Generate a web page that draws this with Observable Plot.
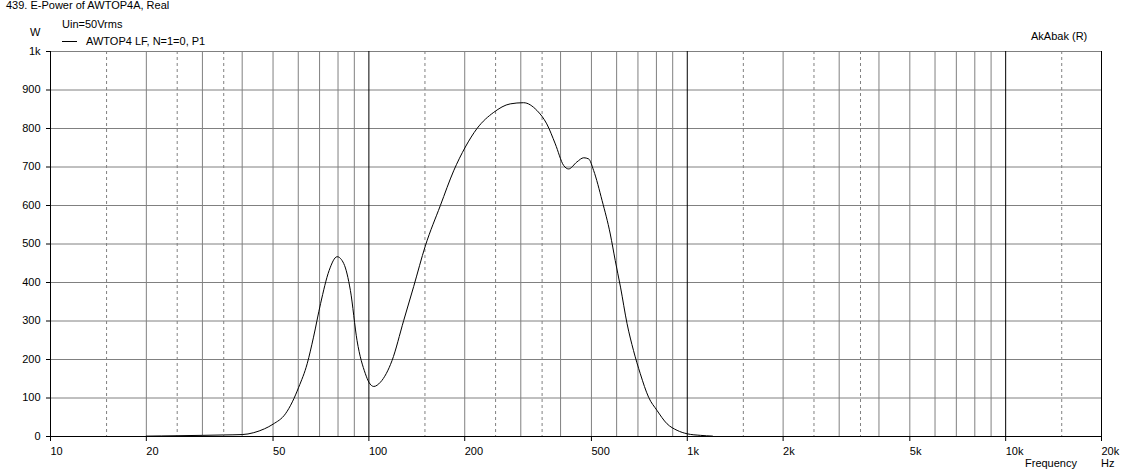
<!DOCTYPE html>
<html>
<head>
<meta charset="utf-8">
<script src="https://cdn.jsdelivr.net/npm/d3@7"></script>
<script src="https://cdn.jsdelivr.net/npm/@observablehq/plot@0.6"></script>
<style>
  html, body { margin: 0; padding: 0; background: #fff; }
  #wrap { position: relative; width: 1128px; height: 476px; font-family: "Liberation Sans", Arial, sans-serif; font-size: 11px; color: #000; }
  #wrap svg { position: absolute; left: 0; top: 0; }
  .t { position: absolute; line-height: 11px; white-space: nowrap; }
  #legline { position: absolute; left: 62px; top: 41px; width: 15px; height: 1px; background: #000; }
</style>
</head>
<body>
<div id="wrap">
  <div class="t" style="left:6px;top:0px">439. E-Power of AWTOP4A, Real</div>
  <div class="t" style="left:62px;top:19px">Uin=50Vrms</div>
  <div class="t" style="left:30px;top:27px">W</div>
  <div id="legline"></div>
  <div class="t" style="left:86px;top:36px">AWTOP4 LF, N=1=0, P1</div>
  <div class="t" style="left:1031px;top:31px">AkAbak (R)</div>
  <div class="t" style="left:1025px;top:458px">Frequency</div>
  <div class="t" style="left:1101px;top:458px">Hz</div>
</div>
<script>
// Curve data (Hz, W)
const freq  = [20, 25, 30, 35, 40, 43.5, 47, 50, 54.7, 57.5, 60.2, 64, 67, 70.5, 75, 79.5, 83.4, 87.5, 91.8, 97.5, 100, 103.6, 108.7, 118.2, 128.6, 138.3, 150.4, 167.7, 184.6, 200.9, 218.6, 246.7, 278, 306, 337, 362, 385, 409, 424, 450, 473, 490, 508, 540, 573, 594, 617, 647, 678, 712, 756, 803, 864, 929, 1000, 1100, 1200];
const power = [1, 2, 3, 4, 5, 10, 20, 32, 59, 90, 128, 189, 258, 345, 431, 467, 449, 379, 249, 163, 141, 130, 141, 197, 301, 390, 495, 600, 690, 752, 800, 842, 864, 867, 847, 812, 760, 704, 695, 713, 724, 721, 691, 613, 526, 457, 388, 293, 223, 163, 102, 68, 33, 16, 7, 3, 1];

// Axis ticks and grid
const xTicks = [10, 20, 50, 100, 200, 500, 1000, 2000, 5000, 10000, 20000];
const xTickLabels = ["10", "20", "50", "100", "200", "500", "1k", "2k", "5k", "10k", "20k"];
const xDecades = [10, 100, 1000, 10000, 20000];
const xMinorSolid = [20, 30, 40, 50, 60, 70, 80, 90, 200, 300, 400, 500, 600, 700, 800, 900, 2000, 3000, 4000, 5000, 6000, 7000, 8000, 9000];
const xMinorDashed = [15, 25, 35, 150, 250, 350, 1500, 2500, 3500, 15000];
const yTicks = [0, 100, 200, 300, 400, 500, 600, 700, 800, 900, 1000];
const yTickLabels = ["0", "100", "200", "300", "400", "500", "600", "700", "800", "900", "1k"];

const data = freq.map((f, i) => ({f, p: power[i]}));
const xLabelData = xTicks.map((f, i) => ({f, label: xTickLabels[i]}));
const grey = "#808080";

const chart = Plot.plot({
  width: 1128,
  height: 476,
  marginLeft: 50,
  marginRight: 27,
  marginTop: 51,
  marginBottom: 40,
  style: {fontFamily: "'Liberation Sans', Arial, sans-serif", fontSize: "11px", background: "transparent", color: "#000"},
  x: {type: "log", domain: [10, 20000]},
  y: {domain: [0, 1000]},
  marks: [
    Plot.ruleY(yTicks.filter(d => d > 0), {stroke: grey}),
    Plot.ruleX(xMinorSolid, {stroke: grey}),
    Plot.ruleX(xMinorDashed, {stroke: grey, strokeDasharray: "3,3"}),
    Plot.ruleX(xDecades, {stroke: "#000"}),
    Plot.ruleY([0], {stroke: "#000"}),
    Plot.line(data, {x: "f", y: "p", stroke: "#000", strokeWidth: 1, curve: "monotone-x"}),
    Plot.axisX({ticks: xTicks, tickSize: 5, fill: "none", label: null}),
    Plot.text(xLabelData, {x: "f", y: () => 0, text: "label", textAnchor: "start", lineAnchor: "top", dy: 11, fill: "#000"}),
    Plot.axisY({ticks: yTicks, tickSize: 4, fill: "none", label: null}),
    Plot.axisY({ticks: yTicks, tickFormat: d => yTickLabels[yTicks.indexOf(d)], tickSize: 0, tickPadding: 10, stroke: "none", lineAnchor: "bottom", dy: 3, label: null})
  ]
});
document.getElementById("wrap").prepend(chart);
</script>
</body>
</html>
